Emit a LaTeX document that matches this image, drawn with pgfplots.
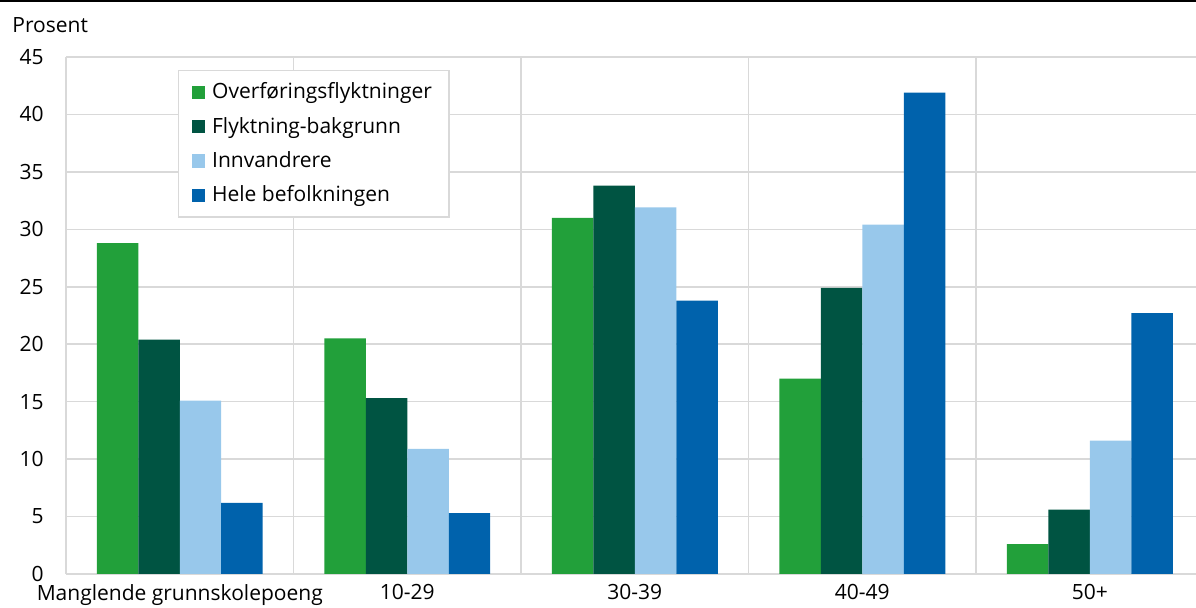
\documentclass[border=0pt]{standalone}
\usepackage{fontspec}
\setmainfont{Open Sans}
\usepackage{pgfplots}
\pgfplotsset{compat=1.18}
\definecolor{cgreen}{RGB}{34,160,58}
\definecolor{cdark}{RGB}{0,84,66}
\definecolor{clight}{RGB}{152,200,235}
\definecolor{cblue}{RGB}{0,98,172}
\definecolor{cgrid}{RGB}{217,217,217}
\pgfplotsset{sq/.style={legend image code/.code={\fill[##1] (0pt,-3.3pt) rectangle (6.6pt,3.3pt); \path (8.2pt,0pt);}}}
\begin{document}
\fontsize{10.5}{12}\selectfont
\begin{tikzpicture}
\begin{axis}[
  at={(33pt,17pt)}, anchor=south west,
  scale only axis, width=565pt, height=258.5pt,
  xmin=-0.5, xmax=4.467, ymin=0, ymax=45,
  ytick={0,5,...,45},
  xtick={0,...,4},
  xticklabels={Manglende grunnskolepoeng,10-29,30-39,40-49,50+},
  minor xtick={0.5,1.5,2.5,3.5},
  xminorgrids, ymajorgrids,
  major grid style={cgrid, line width=0.75pt},
  minor grid style={cgrid, line width=0.75pt},
  axis x line*=bottom, axis y line*=left,
  axis line style={cgrid, line width=0.75pt, -},
  major tick length=0pt, minor tick length=0pt,
  tick style={draw=none},
  /pgf/number format/assume math mode=true,
  tick label style={font=\fontsize{10.5}{12}\selectfont},
  yticklabel style={xshift=-7.5pt},
  xticklabel style={yshift=-1.5pt},
  ybar, bar width=0.1824,
  legend style={at={(0.0991,0.975)}, anchor=north west, draw=cgrid, line width=0.75pt,
    fill=white, font=\fontsize{10.5}{12}\selectfont, row sep=3.6pt,
    inner xsep=6.5pt, inner ysep=4pt},
  legend cell align=left,
]
\addplot[fill=cgreen, draw=none, bar shift=-0.2736, sq]
  coordinates {(0,28.8) (1,20.5) (2,31.0) (3,17.0) (4,2.6)};
\addplot[fill=cdark, draw=none, bar shift=-0.0912, sq]
  coordinates {(0,20.4) (1,15.3) (2,33.8) (3,24.9) (4,5.6)};
\addplot[fill=clight, draw=none, bar shift=0.0912, sq]
  coordinates {(0,15.1) (1,10.9) (2,31.9) (3,30.4) (4,11.6)};
\addplot[fill=cblue, draw=none, bar shift=0.2736, sq]
  coordinates {(0,6.2) (1,5.3) (2,23.8) (3,41.9) (4,22.7)};
\legend{Overføringsflyktninger,Flyktning-bakgrunn,Innvandrere,Hele befolkningen}
\end{axis}
\node[anchor=base west, inner sep=0pt] at (6pt,287.5pt) {Prosent};
\draw[line width=1pt] (0,303.5pt) -- (598pt,303.5pt);
\pgfresetboundingbox
\path[use as bounding box] (0,0) rectangle (598pt,304pt);
\end{tikzpicture}
\end{document}
